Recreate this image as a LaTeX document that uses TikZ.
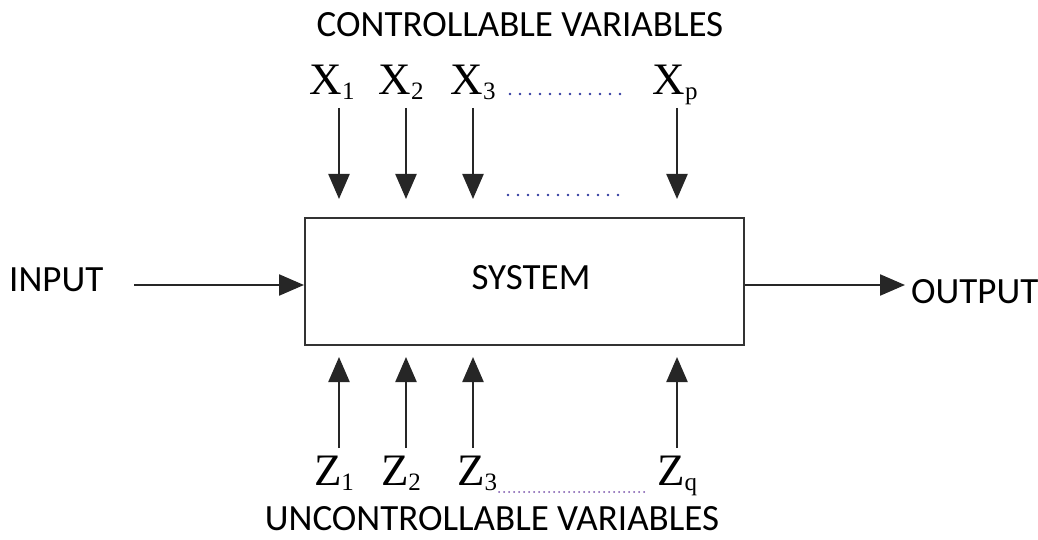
\documentclass[tikz,border=0pt]{standalone}
\usepackage{fontspec}
\setmainfont{Carlito}
\newfontfamily\tnr{Liberation Serif}
\usetikzlibrary{arrows.meta}
\definecolor{dotblue}{RGB}{50,60,160}
\definecolor{dotpurple}{RGB}{120,80,170}
\begin{document}
\begin{tikzpicture}[x=1pt,y=-1pt,
  lab/.style={font=\fontsize{37}{37}\selectfont, inner sep=0pt},
  var/.style={font=\tnr\fontsize{45}{45}\selectfont, inner sep=0pt, anchor=base},
  arr/.style={line width=2.3pt, draw=black!85, -{Triangle[width=21pt,length=25pt]}},
  dots/.style={dotblue, line width=2.8pt, line cap=round, dash pattern=on 0pt off 10pt},
  fdots/.style={dotpurple, line width=2pt, line cap=round, dash pattern=on 0pt off 5pt}]
\useasboundingbox (0,0) rectangle (1038,540);
\node[draw=black!80, line width=2pt, minimum width=439pt, minimum height=127pt, inner sep=0pt] (box) at (524.5,281.5) {};
\node[lab] (sys) at (531,278) {SYSTEM};
\node[lab, anchor=west] (in) at (9,280) {INPUT};
\node[lab, anchor=west] (out) at (911,292) {OUTPUT};
\node[lab] (ctrl) at (520,25) {CONTROLLABLE VARIABLES};
\node[lab] (unc) at (492,519) {UNCONTROLLABLE VARIABLES};
% top labels
\newcommand{\sub}[1]{\raisebox{-5pt}{\fontsize{25}{25}\selectfont #1}}
\node[var] (x1) at (332,95) {X\sub{1}};
\node[var] (x2) at (401,95) {X\sub{2}};
\node[var] (x3) at (473,95) {X\sub{3}};
\node[var] (xp) at (675,95) {X\sub{p}};
\node[var] (z1) at (334,485) {Z\sub{1}};
\node[var] (z2) at (401,485) {Z\sub{2}};
\node[var] (z3) at (477,485) {Z\sub{3}};
\node[var] (zq) at (677,485) {Z\sub{q}};
% coordinates for arrow tails
\coordinate (t1) at (339,108);
\coordinate (t2) at (406,108);
\coordinate (t3) at (473,108);
\coordinate (tp) at (677,108);
\coordinate (b1) at (339,448);
\coordinate (b2) at (406,448);
\coordinate (b3) at (473,448);
\coordinate (bq) at (677,448);
\foreach \c in {t1,t2,t3,tp}{
  \draw[arr, shorten >=18pt] (\c) -- (\c |- box.north);
}
\foreach \c in {b1,b2,b3,bq}{
  \draw[arr, shorten >=11pt] (\c) -- (\c |- box.south);
}
\coordinate (inx) at (134,285);
\draw[arr] (inx) -- (inx -| box.west);
\coordinate (outx) at (905,285);
\draw[arr] (box.east |- outx) -- (outx);
% dotted lines
\coordinate (d1a) at (510,94); \coordinate (d1b) at (621,94);
\draw[dots] (d1a) -- (d1b);
\coordinate (d2a) at (508,195); \coordinate (d2b) at (620,195);
\draw[dots] (d2a) -- (d2b);
\coordinate (d3a) at (499,492); \coordinate (d3b) at (646,492);
\draw[fdots] (d3a) -- (d3b);
\end{tikzpicture}
\end{document}
